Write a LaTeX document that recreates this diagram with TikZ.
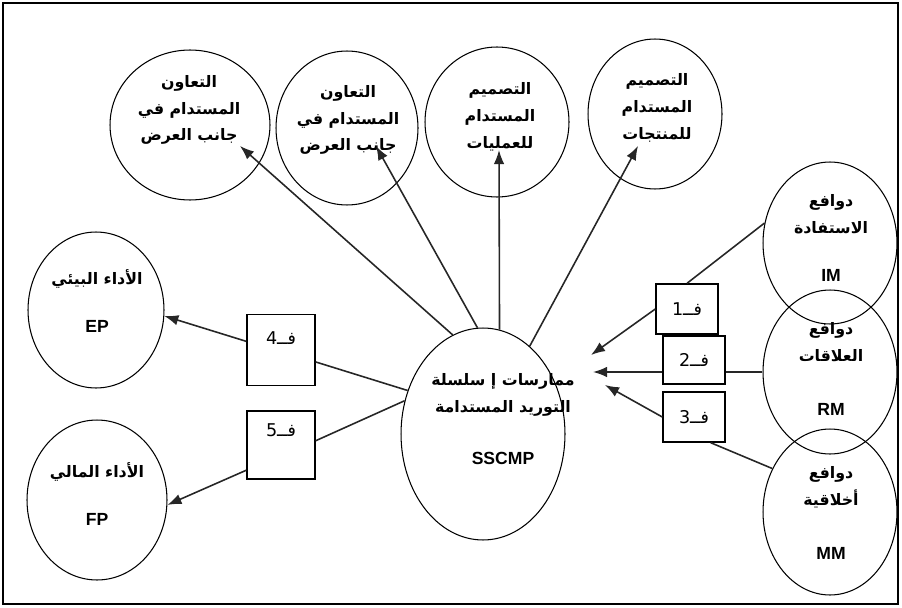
\documentclass[tikz,border=0pt]{standalone}
\usepackage{fontspec}
\setmainfont{Liberation Sans}
\newfontfamily\arabicfont[Script=Arabic]{DejaVu Sans}
\TeXXeTstate=1
\usetikzlibrary{shapes.geometric,arrows.meta}
\newcommand{\arbold}[1]{{\arabicfont\bfseries\beginR #1\endR}}
\newcommand{\arreg}[1]{{\arabicfont\beginR #1\endR}}
\newcommand{\lat}[1]{{\fontsize{10}{12}\selectfont\bfseries #1}}
\tikzset{
  bubble/.style={ellipse, draw, line width=0.6pt, inner sep=0pt},
  btext/.style={align=center, font=\fontsize{9}{15.3}\selectfont},
  hyp/.style={draw, line width=0.8pt, inner sep=0pt, align=center,
    font=\fontsize{10}{12}\selectfont},
  link/.style={line width=0.9pt, draw=black!85},
  arrow/.style={link, -{Latex[length=8pt,width=6pt]}}
}
\begin{document}
\begin{tikzpicture}[x=0.02cm, y=-0.02cm]
\useasboundingbox (0,0) rectangle (902,608);
\draw[line width=0.6pt] (3,3) rectangle (898,604);

% circles
\node[bubble, minimum width=3.2cm, minimum height=3cm] (coopA) at (190,125) {};
\node[bubble, minimum width=2.84cm, minimum height=3.08cm] (coopB) at (347,128) {};
\node[bubble, minimum width=2.88cm, minimum height=3cm] (desProc) at (497,122) {};
\node[bubble, minimum width=2.68cm, minimum height=3cm] (desProd) at (655,114) {};
\node[bubble, minimum width=2.68cm, minimum height=3.24cm] (im) at (830,243) {};
\node[bubble, minimum width=2.68cm, minimum height=3.28cm] (rm) at (830,372) {};
\node[bubble, minimum width=2.68cm, minimum height=3.32cm] (mm) at (830,512) {};
\node[bubble, minimum width=2.72cm, minimum height=3.12cm] (ep) at (96,310) {};
\node[bubble, minimum width=2.8cm, minimum height=3.2cm] (fp) at (97,500) {};
\node[bubble, minimum width=3.28cm, minimum height=4.24cm] (sscmp) at (483,434) {};

% texts
\node[btext] (coopAtxt) at (189,110) {\arbold{التعاون}\\ \arbold{المستدام في}\\ \arbold{جانب العرض}};
\node[btext] (coopBtxt) at (348,120) {\arbold{التعاون}\\ \arbold{المستدام في}\\ \arbold{جانب العرض}};
\node[btext] (desProcTxt) at (500,117) {\arbold{التصميم}\\ \arbold{المستدام}\\ \arbold{للعمليات}};
\node[btext] (desProdTxt) at (657,108) {\arbold{التصميم}\\ \arbold{المستدام}\\ \arbold{للمنتجات}};
\node[btext] (imTxt) at (831,238) {\arbold{دوافع}\\ \arbold{الاستفادة}\\[12pt] \lat{IM}};
\node[btext] (rmTxt) at (831,369) {\arbold{دوافع}\\ \arbold{العلاقات}\\[15pt] \lat{RM}};
\node[btext] (mmTxt) at (831,513) {\arbold{دوافع}\\ \arbold{أخلاقية}\\[15pt] \lat{MM}};
\node[btext] (epTxt) at (97,301) {\arbold{الأداء البيئي}\\[12pt] \lat{EP}};
\node[btext] (fpTxt) at (97,494) {\arbold{الأداء المالي}\\[12pt] \lat{FP}};
\node[btext] (sscmpTxt) at (503,419) {\arbold{ممارسات إ سلسلة}\\ \arbold{التوريد المستدامة}\\[14pt] \lat{SSCMP}};

% hypothesis boxes
\node[hyp, minimum width=1.24cm, minimum height=1cm] (h1) at (687,309) {\arreg{فــ1}};
\node[hyp, minimum width=1.24cm, minimum height=0.96cm] (h2) at (694,360) {\arreg{فــ2}};
\node[hyp, minimum width=1.24cm, minimum height=1cm] (h3) at (694,417) {\arreg{فــ3}};
\node[hyp, minimum width=1.36cm, minimum height=1.42cm] (h4) at (281,350) {\arreg{فــ4}\\[2pt]~};
\node[hyp, minimum width=1.36cm, minimum height=1.36cm] (h5) at (281,445) {\arreg{فــ5}\\[5pt]~};

% arrow tips
\coordinate (tipA) at (240,146);
\coordinate (tipB) at (376,146);
\coordinate (tipC) at (499,150);
\coordinate (tipD) at (638,146);
\coordinate (in1) at (591,355);
\coordinate (in2) at (593,372);
\coordinate (in3) at (605,385);

\draw[arrow] (sscmp.107) -- (tipA);
\draw[arrow] (sscmp.93) -- (tipB);
\draw[arrow] (sscmp.81) -- (tipC);
\draw[arrow] (sscmp.62) -- (tipD);

\draw[link] (im.163) -- (h1.north);
\draw[arrow] (h1.west) -- (in1);
\draw[link] (rm.west) -- (rm.west -| h2.east);
\draw[arrow] (rm.west -| h2.west) -- (in2);
\draw[link] (mm.143) -- (h3.-57);
\draw[arrow] (h3.west) -- (in3);

\draw[link] (sscmp.150) -- (h4.-19);
\draw[arrow] (h4.166) -- (ep.-5);
\draw[link] (sscmp.157) -- (h5.7);
\draw[arrow] (h5.216) -- (fp.-4);
\end{tikzpicture}
\end{document}
